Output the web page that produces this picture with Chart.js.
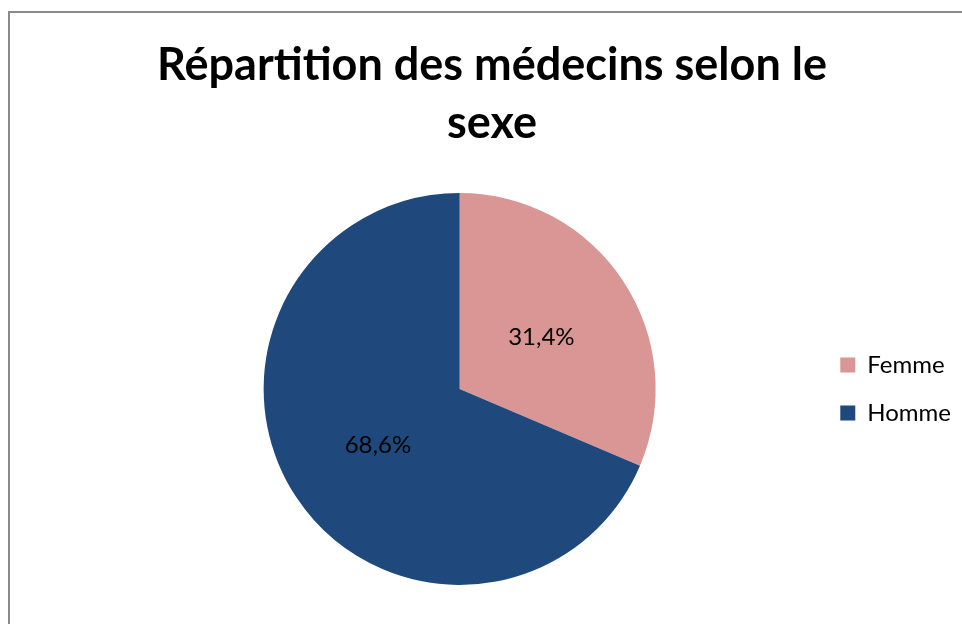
<!DOCTYPE html>
<html>
<head>
<meta charset="utf-8">
<script src="https://cdn.jsdelivr.net/npm/chart.js@4/dist/chart.umd.min.js"></script>
<style>
    body { margin: 0; background: #fff; overflow: hidden; }
    #frame { position: absolute; left: 8px; top: 11px; width: 1000px; height: 700px;
             border-left: 2px solid #8a8a8a; border-top: 2px solid #8a8a8a; }
    #wrap { position: absolute; left: 0; top: 0; width: 962px; height: 624px; }
</style>
</head>
<body>
<div id="frame"></div>
<div id="wrap"><canvas id="sexeChart" width="962" height="624"></canvas></div>
<script>
// Répartition des médecins selon le sexe
const categories = ['Femme', 'Homme'];
const shares = [31.4, 68.6];
const sliceColors = ['#D99694', '#1F497D'];

// Excel keeps the title centred on the whole frame, not on the plot
const centerTitle = {
    id: 'centerTitle',
    afterLayout(chart) {
        chart.titleBlock.left = 22;
        chart.titleBlock.right = 962;
    }
};

// percentage labels inside the slices
const sliceLabels = {
    id: 'sliceLabels',
    afterDatasetsDraw(chart) {
        const ctx = chart.ctx;
        const meta = chart.getDatasetMeta(0);
        ctx.save();
        ctx.font = '24px Lato';
        ctx.fillStyle = '#000';
        ctx.textAlign = 'center';
        ctx.textBaseline = 'middle';
        meta.data.forEach((arc, i) => {
            const p = arc.getProps(['x', 'y', 'startAngle', 'endAngle', 'outerRadius'], true);
            const mid = (p.startAngle + p.endAngle) / 2;
            const r = p.outerRadius * 0.5;
            const text = shares[i].toFixed(1).replace('.', ',') + '%';
            ctx.fillText(text, p.x + Math.cos(mid) * r, p.y + Math.sin(mid) * r + 2);
        });
        ctx.restore();
    }
};

new Chart(document.getElementById('sexeChart'), {
    type: 'pie',
    data: {
        labels: categories,
        datasets: [{
            data: shares,
            backgroundColor: sliceColors,
            borderWidth: 0
        }]
    },
    options: {
        responsive: false,
        animation: false,
        events: [],
        layout: {
            padding: { left: 103, right: 1, top: 0, bottom: 39 }
        },
        plugins: {
            title: {
                display: true,
                text: ['Répartition des médecins selon le', 'sexe'],
                color: '#000',
                font: { family: 'Lato', size: 45, weight: 'bold', lineHeight: 1.3 },
                padding: { top: 36, bottom: 40 }
            },
            legend: {
                position: 'right',
                fullSize: false,
                labels: {
                    boxWidth: 15,
                    boxHeight: 15,
                    padding: 24,
                    color: '#000',
                    font: { family: 'Lato', size: 24 }
                }
            },
            tooltip: { enabled: false }
        }
    },
    plugins: [centerTitle, sliceLabels]
});
</script>
</body>
</html>
